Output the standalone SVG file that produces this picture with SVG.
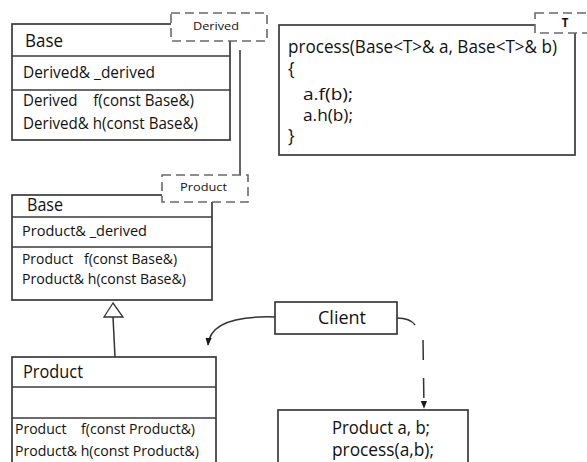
<svg xmlns="http://www.w3.org/2000/svg" width="587" height="462" viewBox="0 0 587 462">
<style>
  .box { fill: #ffffff; stroke: #3a3a3a; stroke-width: 1.7; }
  .sep { stroke: #3a3a3a; stroke-width: 1.5; fill: none; }
  .tpl { fill: #ffffff; stroke: #6a6a6a; stroke-width: 1.6; stroke-dasharray: 9,5; }
  .t { font-family: "Open Sans", "Liberation Sans", sans-serif; fill: #111111; }
  .h { font-size: 18px; }
  .m1 { font-size: 16px; }
  .m { font-size: 14.5px; }
  .c { font-size: 17.5px; }
  .c2 { font-size: 16px; }
  .l { font-size: 11.5px; }
  .conn { stroke: #333333; stroke-width: 1.5; fill: none; }
</style>
<defs>
  <marker id="arrow" viewBox="0 0 10 10" refX="9" refY="5" markerWidth="8" markerHeight="10" markerUnits="userSpaceOnUse" orient="auto">
    <path d="M0,1 L10,5 L0,9 Z" fill="#1a1a1a"/>
  </marker>
</defs>
<rect width="587" height="462" fill="#ffffff"/>

<g id="connectors">
  <line class="conn" x1="240" y1="50" x2="240" y2="178"/>
  <line class="conn" x1="113" y1="317" x2="115" y2="357" stroke-width="1"/>
  <polygon points="113,303 104,317 123,317" fill="#ffffff" stroke="#333333" stroke-width="1.3"/>
  <path class="conn" d="M275,317 C245,316 210,320 208,345" marker-end="url(#arrow)"/>
  <path class="conn" d="M397,318 Q410,318 415,325"/>
  <path class="conn" d="M423,340 L424,408" stroke-dasharray="20,18" marker-end="url(#arrow)"/>
</g>

<g id="base-derived">
  <rect class="box" x="12" y="24" width="218" height="116"/>
  <line class="sep" x1="12" y1="56" x2="230" y2="56"/>
  <line class="sep" x1="12" y1="90" x2="230" y2="90"/>
  <text class="t h" x="25" y="47" textLength="38" lengthAdjust="spacingAndGlyphs">Base</text>
  <text class="t m1" x="23" y="78" textLength="132" lengthAdjust="spacingAndGlyphs">Derived&amp; _derived</text>
  <text class="t m1" x="23" y="106" xml:space="preserve" textLength="171" lengthAdjust="spacingAndGlyphs">Derived    f(const Base&amp;)</text>
  <text class="t m1" x="23" y="129" textLength="175" lengthAdjust="spacingAndGlyphs">Derived&amp; h(const Base&amp;)</text>
  <rect class="tpl" x="171" y="13" width="96" height="28"/>
  <text class="t l" x="193" y="30" textLength="46" lengthAdjust="spacingAndGlyphs">Derived</text>
</g>

<g id="process">
  <rect class="box" x="279" y="25" width="296" height="130"/>
  <text class="t c" x="288" y="53" textLength="269" lengthAdjust="spacingAndGlyphs">process(Base&lt;T&gt;&amp; a, Base&lt;T&gt;&amp; b)</text>
  <text class="t c" x="288" y="75">{</text>
  <text class="t c2" x="303" y="100" textLength="50" lengthAdjust="spacingAndGlyphs">a.f(b);</text>
  <text class="t c2" x="303" y="121" textLength="50" lengthAdjust="spacingAndGlyphs">a.h(b);</text>
  <text class="t c" x="288" y="142">}</text>
  <rect class="tpl" x="535" y="13" width="60" height="20"/>
  <text class="t l" x="565" y="27" text-anchor="middle" font-weight="bold">T</text>
</g>

<g id="base-product">
  <rect class="box" x="12" y="195" width="200" height="105"/>
  <line class="sep" x1="12" y1="217" x2="212" y2="217"/>
  <line class="sep" x1="12" y1="247" x2="212" y2="247"/>
  <text class="t h" x="27" y="211" textLength="36" lengthAdjust="spacingAndGlyphs">Base</text>
  <text class="t m" x="22" y="236" textLength="125" lengthAdjust="spacingAndGlyphs">Product&amp; _derived</text>
  <text class="t m" x="22" y="264" xml:space="preserve" textLength="155" lengthAdjust="spacingAndGlyphs">Product   f(const Base&amp;)</text>
  <text class="t m" x="22" y="284" textLength="164" lengthAdjust="spacingAndGlyphs">Product&amp; h(const Base&amp;)</text>
  <rect class="tpl" x="162" y="175" width="86" height="27"/>
  <text class="t l" x="180" y="191" textLength="47" lengthAdjust="spacingAndGlyphs">Product</text>
</g>

<g id="product">
  <rect class="box" x="12" y="357" width="204" height="115"/>
  <line class="sep" x1="12" y1="387" x2="216" y2="387"/>
  <line class="sep" x1="12" y1="418" x2="216" y2="418"/>
  <text class="t h" x="23" y="378" textLength="60" lengthAdjust="spacingAndGlyphs">Product</text>
  <text class="t m" x="15" y="434" xml:space="preserve" textLength="180" lengthAdjust="spacingAndGlyphs">Product    f(const Product&amp;)</text>
  <text class="t m" x="15" y="456" textLength="184" lengthAdjust="spacingAndGlyphs">Product&amp; h(const Product&amp;)</text>
</g>

<g id="client">
  <rect class="box" x="275" y="302" width="122" height="32"/>
  <text class="t c" x="318" y="324" textLength="48" lengthAdjust="spacingAndGlyphs">Client</text>
</g>

<g id="usage">
  <rect class="box" x="278" y="410" width="190" height="62"/>
  <text class="t c" x="332" y="434" textLength="98" lengthAdjust="spacingAndGlyphs">Product a, b;</text>
  <text class="t c" x="332" y="456" textLength="102" lengthAdjust="spacingAndGlyphs">process(a,b);</text>
</g>
</svg>
